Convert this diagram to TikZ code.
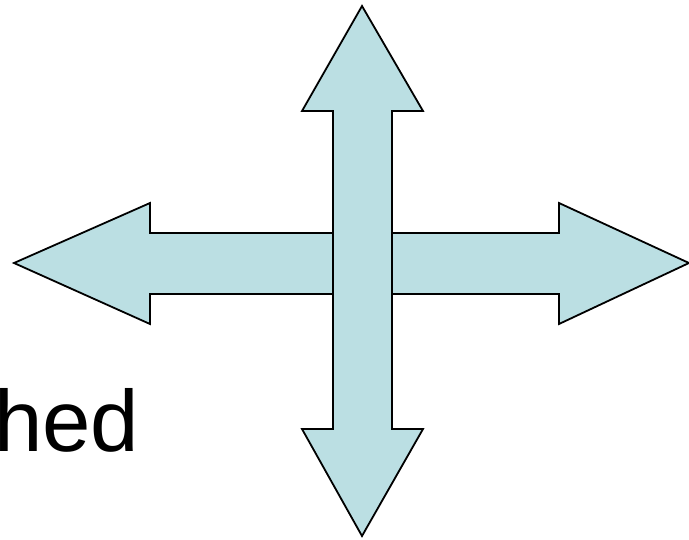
\documentclass[tikz,border=0pt]{standalone}
\usepackage{fontspec}
\setmainfont{Liberation Sans}
\definecolor{arrowfill}{RGB}{187,223,227}

\begin{document}
\begin{tikzpicture}[
		x=1pt, y=-1pt,
		blockarrow/.style={draw=black, fill=arrowfill, line width=1.8pt, line join=miter},
		wordtext/.style={font=\fontsize{87}{100}\selectfont, inner sep=0pt, anchor=base west}
	]
	\useasboundingbox (0,0) rectangle (689,539);

	% Horizontal arrow
	\draw[blockarrow] (14,263) -- (150,203) -- (150,233) -- (559,233) -- (559,203) -- (689,263)
		-- (559,324) -- (559,294) -- (150,294) -- (150,324) -- cycle;

	% Vertical arrow
	\draw[blockarrow] (362,6) -- (423,111) -- (392,111) -- (392,429) -- (423,429) -- (362,536)
		-- (302,429) -- (333,429) -- (333,111) -- (302,111) -- cycle;

	% Text
	\node[wordtext] (word) at (-6,451) {hed};

\end{tikzpicture}
\end{document}
